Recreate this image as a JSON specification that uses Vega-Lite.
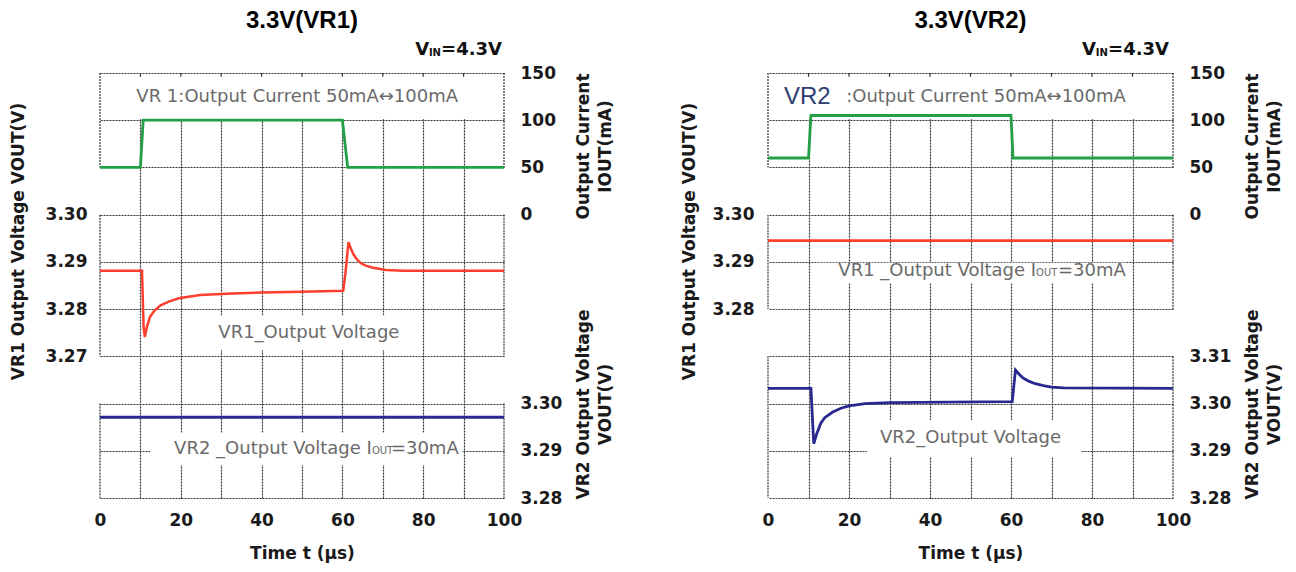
{
  "$schema": "https://vega.github.io/schema/vega-lite/v6.json",
  "background": "white",
  "padding": {"left": 9, "top": 9, "right": 5, "bottom": 5},
  "spacing": 67,
  "config": {
    "font": "DejaVu Sans",
    "view": {"stroke": null},
    "axis": {
      "labelFont": "DejaVu Sans", "labelFontWeight": "bold", "labelFontSize": 17, "labelColor": "#1a1a1a",
      "titleFont": "DejaVu Sans", "titleFontWeight": "bold", "titleFontSize": 17, "titleColor": "#1a1a1a",
      "domain": false, "ticks": false, "labelOverlap": false,
      "gridColor": "#333333", "gridDash": [2, 1], "gridWidth": 1.2, "gridOpacity": 1
    }
  },
  "datasets": {
    "curL": [{"t": 0, "v": 50}, {"t": 10, "v": 50}, {"t": 10.7, "v": 100}, {"t": 60, "v": 100}, {"t": 61.3, "v": 50}, {"t": 100, "v": 50}],
    "curR": [{"t": 0, "v": 60}, {"t": 10, "v": 60}, {"t": 10.6, "v": 105}, {"t": 60, "v": 105}, {"t": 60.5, "v": 60}, {"t": 100, "v": 60}],
    "vr1L": [{"t": 0, "v": 3.2881}, {"t": 10.4, "v": 3.2881}, {"t": 10.8, "v": 3.2760}, {"t": 11.1, "v": 3.2741}, {"t": 11.6, "v": 3.2762}, {"t": 12.4, "v": 3.2784}, {"t": 13.5, "v": 3.2797}, {"t": 15, "v": 3.2808}, {"t": 17, "v": 3.2816}, {"t": 19.5, "v": 3.2823}, {"t": 24.8, "v": 3.2830}, {"t": 32.7, "v": 3.2833}, {"t": 39.8, "v": 3.2835}, {"t": 50, "v": 3.2837}, {"t": 60.2, "v": 3.2839}, {"t": 60.8, "v": 3.2880}, {"t": 61.5, "v": 3.2942}, {"t": 62.1, "v": 3.2928}, {"t": 62.8, "v": 3.2915}, {"t": 63.6, "v": 3.2905}, {"t": 64.6, "v": 3.2897}, {"t": 65.8, "v": 3.2892}, {"t": 67.3, "v": 3.2888}, {"t": 70.8, "v": 3.2883}, {"t": 75, "v": 3.2881}, {"t": 100, "v": 3.2881}],
    "vr2L": [{"t": 0, "v": 3.2971}, {"t": 100, "v": 3.2971}],
    "vr1R": [{"t": 0, "v": 3.2945}, {"t": 100, "v": 3.2945}],
    "vr2R": [{"t": 0, "v": 3.3032}, {"t": 10.6, "v": 3.3032}, {"t": 11.3, "v": 3.2915}, {"t": 12, "v": 3.2935}, {"t": 13, "v": 3.2958}, {"t": 14, "v": 3.2970}, {"t": 16, "v": 3.2982}, {"t": 18, "v": 3.2990}, {"t": 20, "v": 3.2995}, {"t": 24, "v": 3.3000}, {"t": 30, "v": 3.3002}, {"t": 45, "v": 3.3003}, {"t": 60.3, "v": 3.3004}, {"t": 61.1, "v": 3.3071}, {"t": 62, "v": 3.3062}, {"t": 63, "v": 3.3054}, {"t": 64.5, "v": 3.3047}, {"t": 66, "v": 3.3042}, {"t": 68, "v": 3.3038}, {"t": 70, "v": 3.3035}, {"t": 73, "v": 3.3033}, {"t": 100, "v": 3.3032}],
    "maskTop": [{"t": 0.25, "t2": 99.75, "v": 101, "v2": 149}],
    "topTicks": [{"t": 10, "v": 150, "v2": 146}, {"t": 20, "v": 150, "v2": 146}, {"t": 30, "v": 150, "v2": 146}, {"t": 40, "v": 150, "v2": 146}, {"t": 50, "v": 150, "v2": 146}, {"t": 60, "v": 150, "v2": 146}, {"t": 70, "v": 150, "v2": 146}, {"t": 80, "v": 150, "v2": 146}, {"t": 90, "v": 150, "v2": 146}],
    "bordL": [{"t": 0, "v": 150, "v2": 50}, {"t": 100, "v": 150, "v2": 50}, {"t": 0, "v": 0, "v2": -150}, {"t": 100, "v": 0, "v2": -150}, {"t": 0, "v": -200, "v2": -300}, {"t": 100, "v": -200, "v2": -300}],
    "bordR": [{"t": 0, "v": 150, "v2": 50}, {"t": 100, "v": 150, "v2": 50}, {"t": 0, "v": 0, "v2": -100}, {"t": 100, "v": 0, "v2": -100}, {"t": 0, "v": -150, "v2": -300}, {"t": 100, "v": -150, "v2": -300}],
    "maskVr1L": [{"t": 26.5, "t2": 77, "v": 3.2787, "v2": 3.2713}],
    "maskVr2L": [{"t": 12.4, "t2": 89.6, "v": 3.2870, "v2": 3.2938}],
    "maskVr1R": [{"t": 11.9, "t2": 88.4, "v": 3.2855, "v2": 3.2898}],
    "maskVr2R": [{"t": 24.4, "t2": 77.3, "v": 3.2887, "v2": 3.2965}],
    "txtCurL": [{"t": 48.8, "v": 124.6, "label": "VR 1:Output Current 50mA↔100mA"}],
    "txtCurR": [{"t": 19.3, "v": 124.6, "label": ":Output Current 50mA↔100mA"}],
    "bigR": [{"t": 3.95, "v": 124.6, "label": "VR2"}],
    "vinL": [{"t": 99.5, "v": 169, "label": "=4.3V"}, {"t": 81.5, "v": 169, "label": "V"}],
    "vinSubL": [{"t": 84.4, "v": 169, "label": "IN"}],
    "vinR": [{"t": 99.0, "v": 169, "label": "=4.3V"}, {"t": 81.0, "v": 169, "label": "V"}],
    "vinSubR": [{"t": 83.9, "v": 169, "label": "IN"}],
    "txtVr1L": [{"t": 51.7, "v": 3.2749, "label": "VR1_Output Voltage"}],
    "txtVr2La": [{"t": 67.3, "v": 3.2903, "label": "VR2 _Output Voltage I"}],
    "txtVr2Lb": [{"t": 67.3, "v": 3.2900, "label": "OUT"}],
    "txtVr2Lc": [{"t": 72.0, "v": 3.2903, "label": "=30mA"}],
    "txtVr1Ra": [{"t": 66.2, "v": 3.2880, "label": "VR1 _Output Voltage I"}],
    "txtVr1Rb": [{"t": 66.2, "v": 3.2877, "label": "OUT"}],
    "txtVr1Rc": [{"t": 71.6, "v": 3.2880, "label": "=30mA"}],
    "txtVr2R": [{"t": 50, "v": 3.2927, "label": "VR2_Output Voltage"}]
  },
  "hconcat": [
    {
      "width": 404, "height": 425,
      "title": {"text": "3.3V(VR1)", "font": "Liberation Sans", "fontSize": 24, "fontWeight": "bold", "color": "#000000", "offset": 8},
      "encoding": {
        "x": {"field": "t", "type": "quantitative", "scale": {"domain": [0, 100], "nice": false, "zero": false},
              "axis": {"values": [0, 10, 20, 30, 40, 50, 60, 70, 80, 90, 100], "labelExpr": "datum.value % 20 === 0 ? datum.label : ''", "labelFlush": false, "grid": true, "gridOpacity": {"condition": {"test": "datum.value === 0 || datum.value === 100", "value": 0}, "value": 1}, "title": "Time t (µs)", "labelPadding": 14, "titlePadding": 17}}
      },
      "layer": [
        {
          "encoding": {
            "y": {"field": "v", "type": "quantitative", "scale": {"domain": [-300, 150], "nice": false, "zero": false},
                  "axis": {"orient": "right", "values": [150, 100, 50, 0, -50, -100, -150, -200, -250, -300], "labelExpr": "datum.value >= 0 ? datum.label : ''", "grid": true, "labelPadding": 16, "title": ["Output Current", "IOUT(mA)"], "titleAngle": 270, "titleX": 79, "titleY": 73, "titleAlign": "center", "titleBaseline": "middle", "titleLineHeight": 22}}
          },
          "layer": [
            {"data": {"name": "maskTop"}, "mark": {"type": "rect", "color": "white"}, "encoding": {"x2": {"field": "t2"}, "y2": {"field": "v2"}}},
            {"data": {"name": "topTicks"}, "mark": {"type": "rule", "color": "#333333", "strokeWidth": 1.2}, "encoding": {"y2": {"field": "v2"}}},
            {"data": {"name": "bordL"}, "mark": {"type": "rule", "color": "#333333", "strokeDash": [2, 1], "strokeWidth": 1.2}, "encoding": {"y2": {"field": "v2"}}},
            {"data": {"name": "curL"}, "mark": {"type": "line", "color": "#22a045", "strokeWidth": 2.8}, "encoding": {}},
            {"data": {"name": "txtCurL"}, "mark": {"type": "text", "font": "DejaVu Sans", "fontSize": 18, "color": "#6a6a6a", "align": "center", "baseline": "middle"}, "encoding": {"text": {"field": "label"}}},
            {"data": {"name": "vinL"}, "mark": {"type": "text", "font": "DejaVu Sans", "fontSize": 18, "fontWeight": "bold", "color": "#111111", "align": "right", "baseline": "alphabetic"}, "encoding": {"text": {"field": "label"}}},
            {"data": {"name": "vinSubL"}, "mark": {"type": "text", "font": "DejaVu Sans", "fontSize": 10, "fontWeight": "bold", "color": "#111111", "align": "right", "baseline": "alphabetic", "dy": 1}, "encoding": {"text": {"field": "label"}}}
          ]
        },
        {
          "encoding": {
            "y": {"field": "v", "type": "quantitative", "scale": {"domain": [3.24, 3.33], "nice": false, "zero": false},
                  "axis": {"orient": "left", "values": [3.27, 3.28, 3.29, 3.3], "format": ".2f", "grid": false, "labelPadding": 13, "title": "VR1 Output Voltage VOUT(V)", "titleAngle": 270, "titleX": -82, "titleY": 168, "titleAlign": "center", "titleBaseline": "middle"}}
          },
          "layer": [
            {"data": {"name": "maskVr1L"}, "mark": {"type": "rect", "color": "white"}, "encoding": {"x2": {"field": "t2"}, "y2": {"field": "v2"}}},
            {"data": {"name": "vr1L"}, "mark": {"type": "line", "color": "#ff3f2e", "strokeWidth": 2.5}, "encoding": {}},
            {"data": {"name": "txtVr1L"}, "mark": {"type": "text", "font": "DejaVu Sans", "fontSize": 18, "color": "#6a6a6a", "align": "center", "baseline": "middle"}, "encoding": {"text": {"field": "label"}}}
          ]
        },
        {
          "encoding": {
            "y": {"field": "v", "type": "quantitative", "scale": {"domain": [3.28, 3.37], "nice": false, "zero": false},
                  "axis": {"orient": "right", "values": [3.28, 3.29, 3.3], "format": ".2f", "grid": false, "labelPadding": 16, "title": ["VR2 Output Voltage", "VOUT(V)"], "titleAngle": 270, "titleX": 79, "titleY": 331, "titleAlign": "center", "titleBaseline": "middle", "titleLineHeight": 22}}
          },
          "layer": [
            {"data": {"name": "maskVr2L"}, "mark": {"type": "rect", "color": "white"}, "encoding": {"x2": {"field": "t2"}, "y2": {"field": "v2"}}},
            {"data": {"name": "vr2L"}, "mark": {"type": "line", "color": "#29288f", "strokeWidth": 2.8}, "encoding": {}},
            {"data": {"name": "txtVr2La"}, "mark": {"type": "text", "font": "DejaVu Sans", "fontSize": 18, "color": "#6a6a6a", "align": "right", "baseline": "middle"}, "encoding": {"text": {"field": "label"}}},
            {"data": {"name": "txtVr2Lb"}, "mark": {"type": "text", "font": "DejaVu Sans", "fontSize": 10, "color": "#6a6a6a", "align": "left", "baseline": "middle"}, "encoding": {"text": {"field": "label"}}},
            {"data": {"name": "txtVr2Lc"}, "mark": {"type": "text", "font": "DejaVu Sans", "fontSize": 18, "color": "#6a6a6a", "align": "left", "baseline": "middle"}, "encoding": {"text": {"field": "label"}}}
          ]
        }
      ],
      "resolve": {"scale": {"y": "independent"}}
    },
    {
      "width": 405, "height": 425,
      "title": {"text": "3.3V(VR2)", "font": "Liberation Sans", "fontSize": 24, "fontWeight": "bold", "color": "#000000", "offset": 8},
      "encoding": {
        "x": {"field": "t", "type": "quantitative", "scale": {"domain": [0, 100], "nice": false, "zero": false},
              "axis": {"values": [0, 10, 20, 30, 40, 50, 60, 70, 80, 90, 100], "labelExpr": "datum.value % 20 === 0 ? datum.label : ''", "labelFlush": false, "grid": true, "gridOpacity": {"condition": {"test": "datum.value === 0 || datum.value === 100", "value": 0}, "value": 1}, "title": "Time t (µs)", "labelPadding": 14, "titlePadding": 17}}
      },
      "layer": [
        {
          "encoding": {
            "y": {"field": "v", "type": "quantitative", "scale": {"domain": [-300, 150], "nice": false, "zero": false},
                  "axis": {"orient": "right", "values": [150, 100, 50, 0, -50, -100, -150, -200, -250, -300], "labelExpr": "datum.value >= 0 ? datum.label : ''", "grid": true, "labelPadding": 16, "title": ["Output Current", "IOUT(mA)"], "titleAngle": 270, "titleX": 79, "titleY": 73, "titleAlign": "center", "titleBaseline": "middle", "titleLineHeight": 22}}
          },
          "layer": [
            {"data": {"name": "maskTop"}, "mark": {"type": "rect", "color": "white"}, "encoding": {"x2": {"field": "t2"}, "y2": {"field": "v2"}}},
            {"data": {"name": "topTicks"}, "mark": {"type": "rule", "color": "#333333", "strokeWidth": 1.2}, "encoding": {"y2": {"field": "v2"}}},
            {"data": {"name": "bordR"}, "mark": {"type": "rule", "color": "#333333", "strokeDash": [2, 1], "strokeWidth": 1.2}, "encoding": {"y2": {"field": "v2"}}},
            {"data": {"name": "curR"}, "mark": {"type": "line", "color": "#22a045", "strokeWidth": 2.8}, "encoding": {}},
            {"data": {"name": "bigR"}, "mark": {"type": "text", "font": "Liberation Sans", "fontSize": 24, "color": "#2c3d70", "align": "left", "baseline": "middle"}, "encoding": {"text": {"field": "label"}}},
            {"data": {"name": "txtCurR"}, "mark": {"type": "text", "font": "DejaVu Sans", "fontSize": 18, "color": "#6a6a6a", "align": "left", "baseline": "middle"}, "encoding": {"text": {"field": "label"}}},
            {"data": {"name": "vinR"}, "mark": {"type": "text", "font": "DejaVu Sans", "fontSize": 18, "fontWeight": "bold", "color": "#111111", "align": "right", "baseline": "alphabetic"}, "encoding": {"text": {"field": "label"}}},
            {"data": {"name": "vinSubR"}, "mark": {"type": "text", "font": "DejaVu Sans", "fontSize": 10, "fontWeight": "bold", "color": "#111111", "align": "right", "baseline": "alphabetic", "dy": 1}, "encoding": {"text": {"field": "label"}}}
          ]
        },
        {
          "encoding": {
            "y": {"field": "v", "type": "quantitative", "scale": {"domain": [3.24, 3.33], "nice": false, "zero": false},
                  "axis": {"orient": "left", "values": [3.28, 3.29, 3.3], "format": ".2f", "grid": false, "labelPadding": 14, "title": "VR1 Output Voltage VOUT(V)", "titleAngle": 270, "titleX": -79, "titleY": 168, "titleAlign": "center", "titleBaseline": "middle"}}
          },
          "layer": [
            {"data": {"name": "maskVr1R"}, "mark": {"type": "rect", "color": "white"}, "encoding": {"x2": {"field": "t2"}, "y2": {"field": "v2"}}},
            {"data": {"name": "vr1R"}, "mark": {"type": "line", "color": "#ff3f2e", "strokeWidth": 2.8}, "encoding": {}},
            {"data": {"name": "txtVr1Ra"}, "mark": {"type": "text", "font": "DejaVu Sans", "fontSize": 18, "color": "#6a6a6a", "align": "right", "baseline": "middle"}, "encoding": {"text": {"field": "label"}}},
            {"data": {"name": "txtVr1Rb"}, "mark": {"type": "text", "font": "DejaVu Sans", "fontSize": 10, "color": "#6a6a6a", "align": "left", "baseline": "middle"}, "encoding": {"text": {"field": "label"}}},
            {"data": {"name": "txtVr1Rc"}, "mark": {"type": "text", "font": "DejaVu Sans", "fontSize": 18, "color": "#6a6a6a", "align": "left", "baseline": "middle"}, "encoding": {"text": {"field": "label"}}}
          ]
        },
        {
          "encoding": {
            "y": {"field": "v", "type": "quantitative", "scale": {"domain": [3.28, 3.37], "nice": false, "zero": false},
                  "axis": {"orient": "right", "values": [3.28, 3.29, 3.3, 3.31], "format": ".2f", "grid": false, "labelPadding": 16, "title": ["VR2 Output Voltage", "VOUT(V)"], "titleAngle": 270, "titleX": 79, "titleY": 331, "titleAlign": "center", "titleBaseline": "middle", "titleLineHeight": 22}}
          },
          "layer": [
            {"data": {"name": "maskVr2R"}, "mark": {"type": "rect", "color": "white"}, "encoding": {"x2": {"field": "t2"}, "y2": {"field": "v2"}}},
            {"data": {"name": "vr2R"}, "mark": {"type": "line", "color": "#29288f", "strokeWidth": 2.8}, "encoding": {}},
            {"data": {"name": "txtVr2R"}, "mark": {"type": "text", "font": "DejaVu Sans", "fontSize": 18, "color": "#6a6a6a", "align": "center", "baseline": "middle"}, "encoding": {"text": {"field": "label"}}}
          ]
        }
      ],
      "resolve": {"scale": {"y": "independent"}}
    }
  ]
}
